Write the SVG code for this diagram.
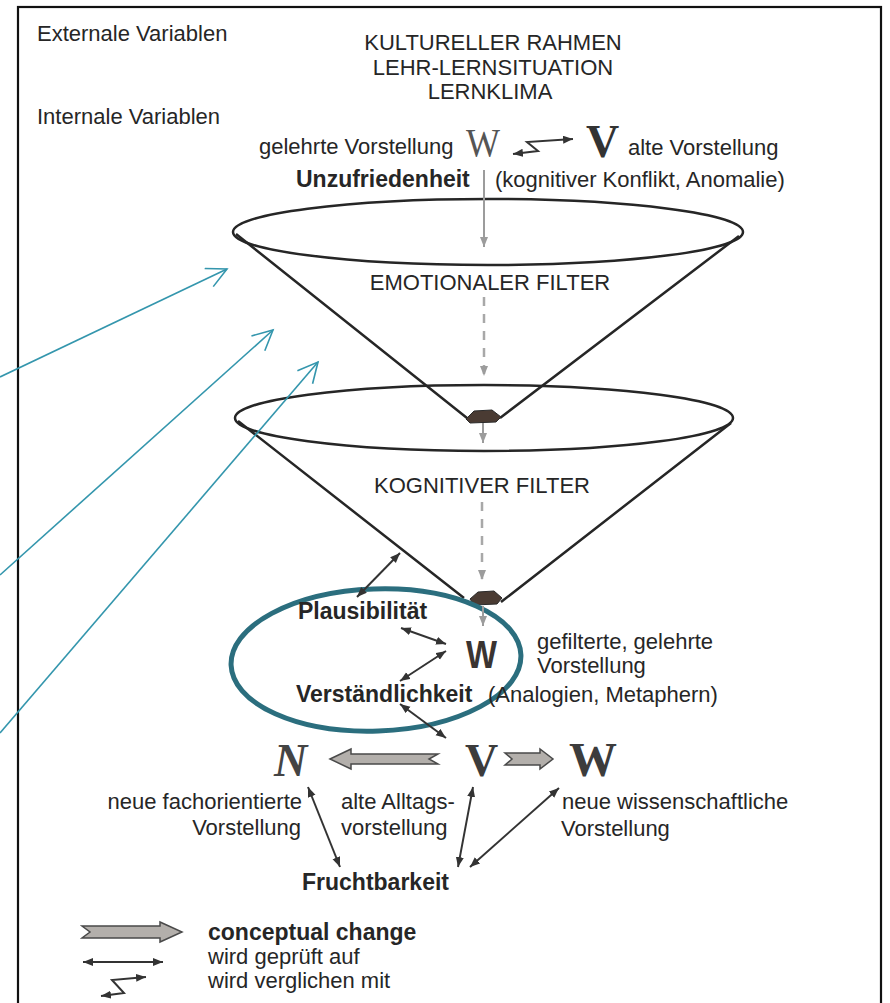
<svg xmlns="http://www.w3.org/2000/svg" width="890" height="1003" viewBox="0 0 890 1003">
<defs>
<style>
text{font-family:"Liberation Sans",Arial,sans-serif;fill:#262626;font-size:22px}
.b{font-weight:bold;font-size:23px}
.m{text-anchor:middle}
.e{text-anchor:end}
.serif{font-family:"Liberation Serif","Times New Roman",serif}
.cone{fill:none;stroke:#262626;stroke-width:2.5}
.blob{fill:#4a3b33;stroke:#2a2a2a;stroke-width:1}
.dbl{stroke:#333;stroke-width:2;fill:none;marker-start:url(#ah);marker-end:url(#ah)}
.gr{stroke:#9c9c9c;stroke-width:2;fill:none;marker-end:url(#gh)}
.grd{stroke:#a8a8a8;stroke-width:2.5;fill:none;stroke-dasharray:9 8;marker-end:url(#gh)}
.teal{stroke:#3496ad;stroke-width:1.6;fill:none;marker-end:url(#th)}
.big{fill:#b3afab;stroke:#4a4a4a;stroke-width:1.5}
</style>
<marker id="ah" markerUnits="userSpaceOnUse" markerWidth="12" markerHeight="10" refX="10" refY="4" orient="auto-start-reverse"><path d="M0,0 L10,4 L0,8 z" fill="#333"/></marker>
<marker id="gh" markerUnits="userSpaceOnUse" markerWidth="12" markerHeight="10" refX="10" refY="4" orient="auto"><path d="M0,0 L10,4 L0,8 z" fill="#9c9c9c"/></marker>
<marker id="th" markerUnits="userSpaceOnUse" markerWidth="24" markerHeight="24" refX="21" refY="11" orient="auto"><path d="M1,1 L21,11 L1,21" fill="none" stroke="#3496ad" stroke-width="1.6"/></marker>
</defs>
<rect width="890" height="1003" fill="#fff"/>
<rect id="frame" x="18" y="7" width="863" height="1010" fill="none" stroke="#111" stroke-width="2.2"/>

<g id="header">
<text x="37" y="41">Externale Variablen</text>
<text class="m" x="493" y="50">KULTURELLER RAHMEN</text>
<text class="m" x="493" y="75">LEHR-LERNSITUATION</text>
<text class="m" x="490" y="99">LERNKLIMA</text>
<text x="37" y="124">Internale Variablen</text>
</g>

<g id="top-compare">
<text x="259" y="154">gelehrte Vorstellung</text>
<text class="serif" x="466" y="156" style="font-size:40px;fill:#555" textLength="34" lengthAdjust="spacingAndGlyphs">W</text>
<text class="serif" x="586" y="157" style="font-size:46px;font-weight:bold;fill:#333">V</text>
<text x="628" y="155">alte Vorstellung</text>
</g>

<g id="unzufriedenheit">
<text class="b" x="296" y="187">Unzufriedenheit</text>
<text x="495" y="187">(kognitiver Konflikt, Anomalie)</text>
</g>

<g id="emotional-filter">
<ellipse class="cone" cx="488" cy="232" rx="255" ry="33"/>
<path class="cone" d="M236,234 L467,418 M739,236 L500,418"/>
<path class="blob" d="M466,419 L474,411 L492,410 L501,417 L496,422 L470,423 z"/>
<text class="m" x="490" y="290">EMOTIONALER FILTER</text>
</g>

<g id="cognitive-filter">
<ellipse class="cone" cx="484" cy="418" rx="249" ry="33"/>
<path class="cone" d="M238,421 L464,598 M731,423 L501,602"/>
<path class="blob" d="M470,599 L478,592 L494,591 L502,598 L497,604 L474,605 z"/>
<text class="m" x="482" y="493">KOGNITIVER FILTER</text>
</g>

<g id="focus-ellipse">
<ellipse cx="376" cy="660" rx="145" ry="71" fill="none" stroke="#2b6e7e" stroke-width="5" transform="rotate(-2 376 660)"/>
</g>

<g id="plausibility">
<text class="b" x="298" y="619">Plausibilität</text>
</g>
<g id="filtered-w">
<text x="466" y="668" style="font-size:38px;font-weight:bold;fill:#3a3431" textLength="31" lengthAdjust="spacingAndGlyphs">W</text>
<text x="537" y="649">gefilterte, gelehrte</text>
<text x="537" y="673">Vorstellung</text>
</g>
<g id="comprehensibility">
<text class="b" x="296" y="702">Verständlichkeit</text>
<text x="488" y="702">(Analogien, Metaphern)</text>
</g>

<g id="bottom-row">
<text class="serif" x="274" y="776" style="font-size:46px;font-style:italic;font-weight:bold;fill:#444">N</text>
<text class="serif" x="465" y="776" style="font-size:46px;font-weight:bold;fill:#3c3c3c">V</text>
<text class="serif" x="569" y="776" style="font-size:48px;font-weight:bold;fill:#3c3c3c">W</text>
</g>
<g id="labels-bottom">
<text class="e" x="302" y="809">neue fachorientierte</text>
<text class="e" x="301" y="835">Vorstellung</text>
<text x="341" y="809">alte Alltags-</text>
<text x="341" y="835">vorstellung</text>
<text x="562" y="809">neue wissenschaftliche</text>
<text x="561" y="836">Vorstellung</text>
<text class="b" x="302" y="890">Fruchtbarkeit</text>
</g>

<g id="legend">
<path class="big" d="M82,926 L160,926 L160,922 L182,932 L160,942 L160,938 L82,938 L90,932 z"/>
<line class="dbl" x1="83" y1="962" x2="163" y2="962"/>
<polyline points="101,996 124,993 112,980 146,977" fill="none" stroke="#333" stroke-width="2" marker-start="url(#ah)" marker-end="url(#ah)"/>
<text class="b" x="208" y="940">conceptual change</text>
<text x="208" y="964">wird geprüft auf</text>
<text x="208" y="988">wird verglichen mit</text>
</g>

<g id="connectors">
<polyline points="513,154 538,151 527,142 573,139" fill="none" stroke="#333" stroke-width="2" marker-start="url(#ah)" marker-end="url(#ah)"/>
<line class="gr" x1="484" y1="170" x2="484" y2="247"/>
<line class="grd" x1="484" y1="297" x2="484" y2="376"/>
<line class="gr" x1="483" y1="423" x2="483" y2="443"/>
<line class="grd" x1="482" y1="502" x2="482" y2="580"/>
<line class="gr" x1="483" y1="606" x2="483" y2="626"/>
<line class="dbl" x1="400" y1="553" x2="357" y2="597"/>
<line class="dbl" x1="401" y1="628" x2="446" y2="644"/>
<line class="dbl" x1="446" y1="651" x2="400" y2="681"/>
<line class="dbl" x1="400" y1="704" x2="446" y2="738"/>
<line class="dbl" x1="308" y1="787" x2="340" y2="867"/>
<line class="dbl" x1="473" y1="787" x2="458" y2="867"/>
<line class="dbl" x1="559" y1="788" x2="470" y2="867"/>
<path class="big" d="M330,759 L351,749 L351,754 L438,754 L429,759 L438,764 L351,764 L351,769 z"/>
<path class="big" d="M505,753 L540,753 L540,749 L553,759 L540,769 L540,765 L505,765 L512,759 z"/>
<line class="teal" x1="0" y1="377" x2="227" y2="269"/>
<line class="teal" x1="0" y1="575" x2="273" y2="330"/>
<line class="teal" x1="0" y1="733" x2="318" y2="362"/>
</g>
</svg>
